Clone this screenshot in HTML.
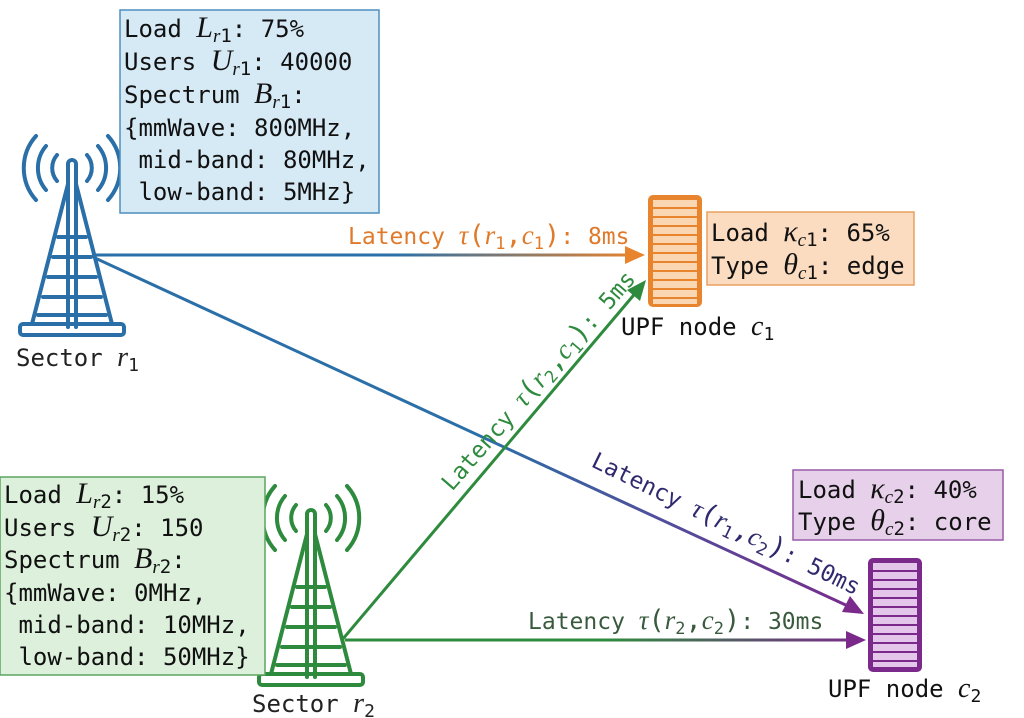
<!DOCTYPE html>
<html><head><meta charset="utf-8"><style>
html,body{margin:0;padding:0;background:#fff;}
svg{display:block;}
text{font-family:"DejaVu Sans Mono","Liberation Mono",monospace;white-space:pre;}
.m{font-family:"Liberation Serif",serif;font-style:italic;}
</style></head><body>
<svg width="1024" height="718" viewBox="0 0 1024 718" xmlns="http://www.w3.org/2000/svg" xml:space="preserve">
<defs>
<linearGradient id="gbo" x1="90" y1="0" x2="640" y2="0" gradientUnits="userSpaceOnUse"><stop offset="0" stop-color="#2a6fa8"/><stop offset="0.55" stop-color="#2a6fa8"/><stop offset="1" stop-color="#e8842e"/></linearGradient>
<linearGradient id="gbp" x1="95" y1="258" x2="862" y2="612" gradientUnits="userSpaceOnUse"><stop offset="0" stop-color="#2a6fa8"/><stop offset="0.5" stop-color="#2a6fa8"/><stop offset="1" stop-color="#7b2a8c"/></linearGradient>
<linearGradient id="ggp" x1="345" y1="0" x2="865" y2="0" gradientUnits="userSpaceOnUse"><stop offset="0" stop-color="#2e8b3e"/><stop offset="0.5" stop-color="#2e8b3e"/><stop offset="1" stop-color="#7b2a8c"/></linearGradient>
<g id="tower" fill="none" stroke-width="4" stroke-linecap="round">
<path d="M-4,165 V2 a4,4 0 0 1 8,0 V165"/>
<path d="M-4,22 L-40,162 M4,22 L40,162"/>
<path d="M-14,75 H14 M-19,95 H19 M-24,115 H24 M-29,135 H29 M-34,153 H34"/>
<rect x="-52" y="162" width="104" height="11" rx="3"/>
<path d="M-15,-7 A20,20 0 0 0 -15,19 M15,-7 A20,20 0 0 1 15,19"/>
<path d="M-26,-16 A34,34 0 0 0 -26,28 M26,-16 A34,34 0 0 1 26,28"/>
<path d="M-36,-26 A48,48 0 0 0 -36,38 M36,-26 A48,48 0 0 1 36,38"/>
</g>
</defs>

<!-- connectors -->
<line x1="92" y1="255" x2="630" y2="255" stroke="url(#gbo)" stroke-width="3"/>
<polygon points="645,255 625,246 625,264" fill="#e8842e"/>
<line x1="95" y1="258" x2="850" y2="607" stroke="url(#gbp)" stroke-width="3"/>
<polygon points="864,614 842,612 850,596" fill="#7b2a8c"/>
<line x1="342" y1="640" x2="638" y2="290" stroke="#2e8b3e" stroke-width="3"/>
<polygon points="646,280 640,301 627,290" fill="#2e8b3e"/>
<line x1="345" y1="640" x2="850" y2="640" stroke="url(#ggp)" stroke-width="3"/>
<polygon points="866,640 846,631 846,649" fill="#7b2a8c"/>

<!-- towers -->
<use href="#tower" x="72" y="162" style="stroke:#2a6fa8"/>
<use href="#tower" x="311" y="512" style="stroke:#2e8b3e"/>
<text x="16" y="366" font-size="24" fill="#222">Sector <tspan class="m" font-size="28">r</tspan><tspan font-size="18" dy="5">1</tspan></text>
<text x="252" y="712" font-size="24" fill="#222">Sector <tspan class="m" font-size="28">r</tspan><tspan font-size="18" dy="5">2</tspan></text>

<!-- blue box -->
<rect x="120" y="10" width="259" height="203" fill="#d6eaf6" stroke="#4f8fbf" stroke-width="1.5"/>
<g font-size="24" fill="#111">
<text x="124" y="37">Load <tspan class="m" font-size="30">L</tspan><tspan class="m" font-size="19" dy="5">r</tspan><tspan font-size="19">1</tspan><tspan dy="-5">: 75%</tspan></text>
<text x="124" y="70">Users <tspan class="m" font-size="30">U</tspan><tspan class="m" font-size="19" dy="5">r</tspan><tspan font-size="19">1</tspan><tspan dy="-5">: 40000</tspan></text>
<text x="124" y="103">Spectrum <tspan class="m" font-size="30">B</tspan><tspan class="m" font-size="19" dy="5">r</tspan><tspan font-size="19">1</tspan><tspan dy="-5">:</tspan></text>
<text x="124" y="136">{mmWave: 800MHz,</text>
<text x="124" y="168"> mid-band: 80MHz,</text>
<text x="124" y="200"> low-band: 5MHz}</text>
</g>

<!-- green box -->
<rect x="0" y="477" width="265" height="198" fill="#dcf0dc" stroke="#5aa55f" stroke-width="1.5"/>
<g font-size="24" fill="#111">
<text x="4" y="503">Load <tspan class="m" font-size="30">L</tspan><tspan class="m" font-size="19" dy="5">r</tspan><tspan font-size="19">2</tspan><tspan dy="-5">: 15%</tspan></text>
<text x="4" y="536">Users <tspan class="m" font-size="30">U</tspan><tspan class="m" font-size="19" dy="5">r</tspan><tspan font-size="19">2</tspan><tspan dy="-5">: 150</tspan></text>
<text x="4" y="568">Spectrum <tspan class="m" font-size="30">B</tspan><tspan class="m" font-size="19" dy="5">r</tspan><tspan font-size="19">2</tspan><tspan dy="-5">:</tspan></text>
<text x="4" y="601">{mmWave: 0MHz,</text>
<text x="4" y="633"> mid-band: 10MHz,</text>
<text x="4" y="665"> low-band: 50MHz}</text>
</g>

<!-- orange server -->
<rect x="648" y="195" width="54" height="112" rx="5" fill="#e8842e"/>
<g fill="#fbd6b3">
<rect x="653" y="200" width="44" height="7"/><rect x="653" y="209" width="44" height="7"/><rect x="653" y="218" width="44" height="7"/><rect x="653" y="227" width="44" height="7"/><rect x="653" y="236" width="44" height="7"/><rect x="653" y="245" width="44" height="7"/><rect x="653" y="254" width="44" height="7"/><rect x="653" y="263" width="44" height="7"/><rect x="653" y="272" width="44" height="7"/><rect x="653" y="281" width="44" height="7"/><rect x="653" y="290" width="44" height="7"/><rect x="653" y="299" width="44" height="5"/>
</g>
<rect x="707" y="212" width="207" height="73" fill="#fbdcc0" stroke="#e8a060" stroke-width="1.5"/>
<g font-size="24" fill="#111">
<text x="711" y="241">Load <tspan class="m" font-size="30">κ</tspan><tspan class="m" font-size="19" dy="5">c</tspan><tspan font-size="19">1</tspan><tspan dy="-5">: 65%</tspan></text>
<text x="711" y="274">Type <tspan class="m" font-size="30">θ</tspan><tspan class="m" font-size="19" dy="5">c</tspan><tspan font-size="19">1</tspan><tspan dy="-5">: edge</tspan></text>
</g>
<text x="621" y="335" font-size="24" fill="#111">UPF node <tspan class="m" font-size="28">c</tspan><tspan font-size="18" dy="5">1</tspan></text>

<!-- purple server -->
<rect x="868" y="558" width="54" height="114" rx="5" fill="#7b2a8c"/>
<g fill="#e3c6ea">
<rect x="873" y="563" width="44" height="7"/><rect x="873" y="572" width="44" height="7"/><rect x="873" y="581" width="44" height="7"/><rect x="873" y="590" width="44" height="7"/><rect x="873" y="599" width="44" height="7"/><rect x="873" y="608" width="44" height="7"/><rect x="873" y="617" width="44" height="7"/><rect x="873" y="626" width="44" height="7"/><rect x="873" y="635" width="44" height="7"/><rect x="873" y="644" width="44" height="7"/><rect x="873" y="653" width="44" height="7"/><rect x="873" y="662" width="44" height="5"/>
</g>
<rect x="793" y="470" width="210" height="70" fill="#e6d0ea" stroke="#9a5aa8" stroke-width="1.5"/>
<g font-size="24" fill="#111">
<text x="798" y="498">Load <tspan class="m" font-size="30">κ</tspan><tspan class="m" font-size="19" dy="5">c</tspan><tspan font-size="19">2</tspan><tspan dy="-5">: 40%</tspan></text>
<text x="798" y="530">Type <tspan class="m" font-size="30">θ</tspan><tspan class="m" font-size="19" dy="5">c</tspan><tspan font-size="19">2</tspan><tspan dy="-5">: core</tspan></text>
</g>
<text x="828" y="697" font-size="24" fill="#111">UPF node <tspan class="m" font-size="28">c</tspan><tspan font-size="18" dy="5">2</tspan></text>

<!-- connector labels -->
<text x="348" y="244" font-size="23" fill="#e07a2a">Latency <tspan class="m" font-size="27">τ</tspan><tspan font-size="27">(</tspan><tspan class="m" font-size="27">r</tspan><tspan font-size="17" dy="5">1</tspan><tspan dy="-5" font-size="27">,</tspan><tspan class="m" font-size="27">c</tspan><tspan font-size="17" dy="5">1</tspan><tspan dy="-5" font-size="27">)</tspan>: 8ms</text>
<text transform="translate(452,492) rotate(-49)" font-size="23" fill="#2e8b3e">Latency <tspan class="m" font-size="27">τ</tspan><tspan font-size="27">(</tspan><tspan class="m" font-size="27">r</tspan><tspan font-size="17" dy="5">2</tspan><tspan dy="-5" font-size="27">,</tspan><tspan class="m" font-size="27">c</tspan><tspan font-size="17" dy="5">1</tspan><tspan dy="-5" font-size="27">)</tspan>: 5ms</text>
<text transform="translate(590,466) rotate(26)" font-size="23" fill="#2f2a6e">Latency <tspan class="m" font-size="27">τ</tspan><tspan font-size="27">(</tspan><tspan class="m" font-size="27">r</tspan><tspan font-size="17" dy="5">1</tspan><tspan dy="-5" font-size="27">,</tspan><tspan class="m" font-size="27">c</tspan><tspan font-size="17" dy="5">2</tspan><tspan dy="-5" font-size="27">)</tspan>: 50ms</text>
<text x="528" y="629" font-size="23" fill="#3a5a3e">Latency <tspan class="m" font-size="27">τ</tspan><tspan font-size="27">(</tspan><tspan class="m" font-size="27">r</tspan><tspan font-size="17" dy="5">2</tspan><tspan dy="-5" font-size="27">,</tspan><tspan class="m" font-size="27">c</tspan><tspan font-size="17" dy="5">2</tspan><tspan dy="-5" font-size="27">)</tspan>: 30ms</text>
</svg>
</body></html>
